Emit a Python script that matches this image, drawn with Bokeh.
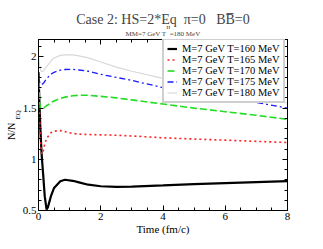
from bokeh.plotting import figure
from bokeh.models import (ColumnDataSource, Label, LinearAxis, SingleIntervalTicker,
                          Legend, LegendItem, Range1d, Title)
from bokeh.embed import file_html
from bokeh.resources import INLINE
import math

# ---------------- data ----------------
t = [0, 0.03, 0.06, 0.1, 0.15, 0.2, 0.26, 0.3, 0.4, 0.5, 0.7, 0.85, 1.1, 1.3, 1.6,
     2, 2.5, 3, 4, 5, 6, 7, 8]
n160 = [1.85, 1.55, 1.3, 1.05, 0.85, 0.64, 0.51, 0.53, 0.64, 0.72, 0.785, 0.80, 0.79,
        0.775, 0.752, 0.737, 0.731, 0.733, 0.745, 0.758, 0.768, 0.778, 0.786]
n165 = [1.85, 1.5, 1.2, 1.05, 1.08, 1.15, 1.2, 1.22, 1.26, 1.275, 1.28, 1.27, 1.252,
        1.246, 1.242, 1.239, 1.235, 1.228, 1.21, 1.198, 1.187, 1.175, 1.164]
n170 = [1.85, 1.6, 1.5, 1.49, 1.5, 1.51, 1.525, 1.53, 1.555, 1.57, 1.595, 1.607, 1.62,
        1.625, 1.625, 1.615, 1.6, 1.58, 1.54, 1.5, 1.465, 1.43, 1.39]
n175 = [1.85, 1.76, 1.73, 1.73, 1.74, 1.76, 1.79, 1.8, 1.83, 1.85, 1.87, 1.877, 1.878,
        1.872, 1.86, 1.83, 1.8, 1.77, 1.7, 1.655, 1.605, 1.555, 1.5]
n180 = [2.0, 1.93, 1.88, 1.855, 1.86, 1.88, 1.905, 1.92, 1.96, 1.99, 2.015, 2.02, 2.02,
        2.01, 1.99, 1.95, 1.9, 1.86, 1.79, 1.73, 1.67, 1.61, 1.55]
labels = ["M=7 GeV T=160 MeV", "M=7 GeV T=165 MeV", "M=7 GeV T=170 MeV",
          "M=7 GeV T=175 MeV", "M=7 GeV T=180 MeV"]
NB = "\u00a0"
title_text = "Case 2: HS=2*Eq" + NB + " \u03c0=0" + NB + NB + " BB\u0305=0"
subtitle_text = "MM=7 GeV T" + NB + NB + "=180 MeV"
x_ticks_interval = 2
y_ticks_interval = 0.5

FONT = "Liberation Serif"
W, H = 323, 249
FL, FR, FT, FB = 38, 287, 39, 210
X0, X1 = 0, 8
Y0, Y1 = 0.5, 2.17

p = figure(width=W, height=H, output_backend="svg", toolbar_location=None,
           x_range=Range1d(X0, X1), y_range=Range1d(Y0, Y1),
           min_border_left=FL, min_border_right=W - FR, min_border_top=FT,
           min_border_bottom=H - FB, x_axis_location=None, y_axis_location=None)
p.grid.visible = False
p.outline_line_color = "black"
p.outline_line_width = 1
p.background_fill_color = "white"
p.border_fill_color = "white"


def mk_axis(ticker, show_labels):
    ax = LinearAxis(ticker=ticker)
    ax.major_tick_in = 5
    ax.major_tick_out = 0
    ax.minor_tick_in = 3
    ax.minor_tick_out = 0
    ax.axis_line_color = "black"
    ax.major_tick_line_color = "black"
    ax.minor_tick_line_color = "black"
    ax.major_label_text_font = FONT
    ax.major_label_text_font_size = "11px"
    ax.major_label_text_color = "black"
    ax.major_label_standoff = 2
    ax.axis_label_text_font = FONT
    ax.axis_label_text_font_style = "normal"
    ax.axis_label_text_font_size = "11px"
    ax.axis_label_text_color = "black"
    if not show_labels:
        ax.major_label_text_font_size = "0px"
        ax.major_label_text_alpha = 0
    return ax

xb = mk_axis(SingleIntervalTicker(interval=x_ticks_interval, num_minor_ticks=4), True)
xb.axis_label = "Time (fm/c)"
xb.axis_label_standoff = 0
p.add_layout(xb, "below")
p.add_layout(mk_axis(SingleIntervalTicker(interval=x_ticks_interval, num_minor_ticks=4), False), "above")
yl = mk_axis(SingleIntervalTicker(interval=y_ticks_interval, num_minor_ticks=5), True)
yl.axis_label = "N/N" + NB * 5
yl.axis_label_text_font_size = "10px"
yl.axis_label_standoff = 3
p.add_layout(yl, "left")
p.add_layout(mk_axis(SingleIntervalTicker(interval=y_ticks_interval, num_minor_ticks=5), False), "right")

src = ColumnDataSource(dict(t=t, a=n160, b=n165, c=n170, d=n175, e=n180))
r1 = p.line("t", "a", source=src, line_color="black", line_width=2.2)
r2 = p.line("t", "b", source=src, line_color="#ff2020", line_width=1.6, line_dash="2 3")
r3 = p.line("t", "c", source=src, line_color="#22dd22", line_width=1.6, line_dash="7 3")
r4 = p.line("t", "d", source=src, line_color="#1a1aff", line_width=1.3, line_dash="6 3 2 3")
r5 = p.line("t", "e", source=src, line_color="#d8d8d8", line_width=1.2)

legend = Legend(items=[LegendItem(label=l, renderers=[r]) for l, r in
                       zip(labels, [r1, r2, r3, r4, r5])],
                location=(124, 107))
legend.label_text_font = FONT
legend.label_text_font_size = "10.5px"
legend.label_text_color = "black"
legend.label_height = 9
legend.glyph_height = 9
legend.glyph_width = 10
legend.label_standoff = 5
legend.spacing = 0
legend.padding = 3
legend.margin = 0
legend.border_line_color = "#a0a0a0"
legend.border_line_width = 2
legend.background_fill_color = "white"
legend.background_fill_alpha = 1
p.add_layout(legend, "center")


def dx(px):
    return X0 + (px - FL) * (X1 - X0) / (FR - FL)


def dy(py):
    return Y0 + (FB - py) * (Y1 - Y0) / (FB - FT)

# subscripts: labels in the right side panel, positioned in data units
p.add_layout(Label(x=dx(17), y=dy(119), text="EQ", text_font=FONT,
                   text_font_size="7px", text_baseline="middle", text_align="left",
                   angle=math.pi / 2, text_color="black"), "right")
p.add_layout(Label(x=dx(166), y=dy(26.5), text="H", text_font=FONT,
                   text_font_size="5px", text_baseline="middle", text_align="left",
                   text_color="black"), "right")

# subtitle, then main title (later added goes farther out)
p.add_layout(Title(text=subtitle_text, text_font=FONT, text_font_size="7px",
                   text_font_style="normal", align="center", standoff=4), "above")
p.add_layout(Title(text=title_text, text_font=FONT, text_font_size="14px",
                   text_font_style="normal", align="center", standoff=-3), "above")

open("out.html", "w").write(file_html(p, INLINE))
